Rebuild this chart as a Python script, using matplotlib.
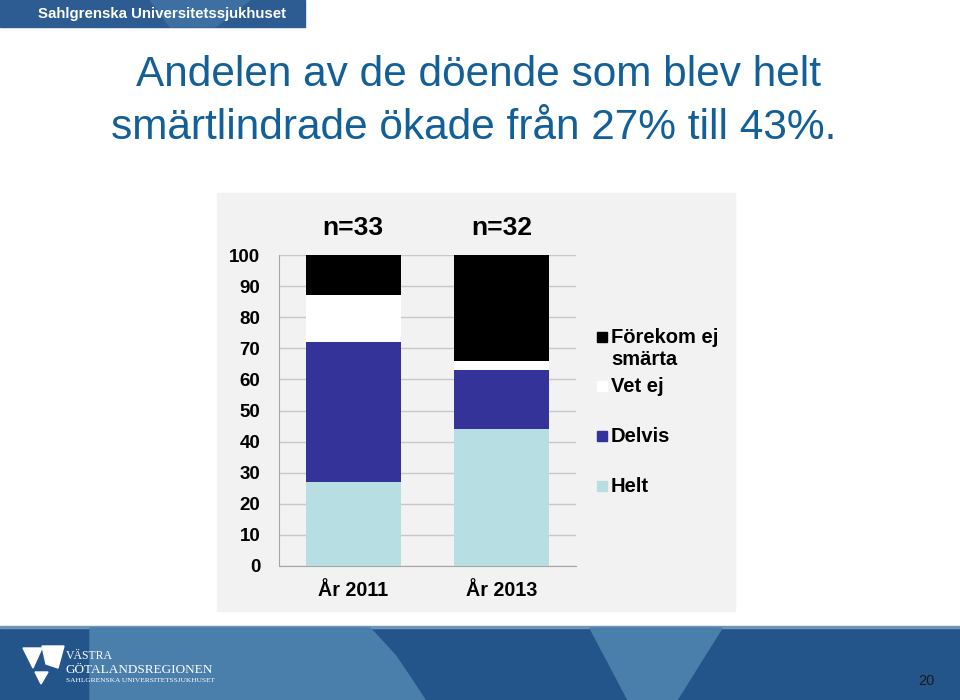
import numpy as np
import matplotlib.pyplot as plt
from matplotlib.patches import Rectangle, Polygon

plt.rcParams['font.family'] = ['Liberation Sans', 'DejaVu Sans']

# data
years = ['År 2011', 'År 2013']
n_labels = ['n=33', 'n=32']
series = ['Helt', 'Delvis', 'Vet ej', 'Förekom ej\nsmärta']
helt = [27, 44]
delvis = [45, 19]
vet_ej = [15, 3]
forekom = [13, 34]
colors = ['#B7DEE2', '#333399', '#FFFFFF', '#000000']
values = [helt, delvis, vet_ej, forekom]

fig = plt.figure(figsize=(9.6, 7), dpi=100)

# bakgrund / slide i pixelkoordinater
bg = fig.add_axes([0, 0, 1, 1])
bg.set_xlim(0, 960)
bg.set_ylim(700, 0)
bg.axis('off')

# banner upptill
bg.add_patch(Rectangle((0, 0), 305, 27, color='#2C5C92'))
bg.add_patch(Polygon([(150, 0), (250, 0), (215, 27), (170, 27)], color='#3E6FA3'))
bg.text(38, 14, 'Sahlgrenska Universitetssjukhuset', color='white',
        fontsize=10.8, fontweight='bold', va='center', ha='left')

# titel
bg.text(478, 75, 'Andelen av de döende som blev helt', color='#135F98',
        fontsize=30.5, ha='center', va='center')
bg.text(474, 128, 'smärtlindrade ökade från 27% till 43%.', color='#135F98',
        fontsize=30.5, ha='center', va='center')

# diagrampanel
bg.add_patch(Rectangle((217, 193), 518, 418, color='#F2F2F2'))

# sidfot
bg.add_patch(Rectangle((0, 627), 960, 73, color='#24558A'))
bg.add_patch(Rectangle((0, 626), 960, 2, color='#6F94BA'))
bg.add_patch(Polygon([(90, 628), (370, 628), (395, 655), (412, 680), (425, 700), (90, 700)],
                     color='#4A7EAB'))
bg.add_patch(Polygon([(590, 628), (722, 628), (677, 700), (628, 700)],
                     color='#4A7EAB'))
# logga
bg.add_patch(Polygon([(23, 648), (42, 648), (33, 668)], color='white'))
bg.add_patch(Polygon([(42, 646), (64, 646), (58, 668), (46, 664)], color='white'))
bg.add_patch(Polygon([(35, 672), (48, 672), (41, 684)], color='white'))
bg.text(66, 656, 'VÄSTRA', color='white', fontsize=8.5, va='center', family='Liberation Serif')
bg.text(66, 670, 'GÖTALANDSREGIONEN', color='white', fontsize=9.5, va='center',
        family='Liberation Serif')
bg.text(66, 681, 'SAHLGRENSKA UNIVERSITETSSJUKHUSET', color='white', fontsize=5.3,
        va='center', family='Liberation Serif')
bg.text(935, 681, '20', color='#1a1a1a', fontsize=10.5, ha='right', va='center')

# diagram
ax = fig.add_axes([279 / 960, 1 - 566 / 700, 297 / 960, 311 / 700])
ax.set_facecolor('none')
x = np.arange(len(years))
bottom = np.zeros(len(years))
for vals, col in zip(values, colors):
    ax.bar(x, vals, 0.64, bottom=bottom, color=col, zorder=3)
    bottom += np.array(vals)

ax.set_xlim(-0.5, 1.5)
ax.set_ylim(0, 100)
ax.set_yticks(range(0, 101, 10))
ax.yaxis.grid(True, color='#C8C8C8', linewidth=1, zorder=0)
for s in ['top', 'right']:
    ax.spines[s].set_visible(False)
ax.spines['left'].set_color('#A6A6A6')
ax.spines['bottom'].set_color('#A6A6A6')
ax.tick_params(axis='y', length=0, pad=13.5)
ax.tick_params(axis='x', length=0, pad=11)
ax.set_xticks(x)
ax.set_xticklabels(years, fontsize=14.2, fontweight='bold')
for lab in ax.get_yticklabels():
    lab.set_fontsize(13.5)
    lab.set_fontweight('bold')

for xi, t in zip(x, n_labels):
    ax.text(xi, 108.7, t, ha='center', va='center', fontsize=19,
            fontweight='bold', clip_on=False)

# legend (manuell, uppifrån och ned)
leg_y = [337, 386, 436, 486]
for yy, name, col in zip(leg_y, series[::-1], colors[::-1]):
    bg.add_patch(Rectangle((597, yy - 5), 10, 10, color=col))
    if '\n' in name:
        bg.text(611, yy - 9, name, fontsize=14.5, fontweight='bold', va='top',
                ha='left', linespacing=1.2)
    else:
        bg.text(611, yy, name, fontsize=14.5, fontweight='bold', va='center', ha='left')

fig.savefig('out.png', dpi=100)
